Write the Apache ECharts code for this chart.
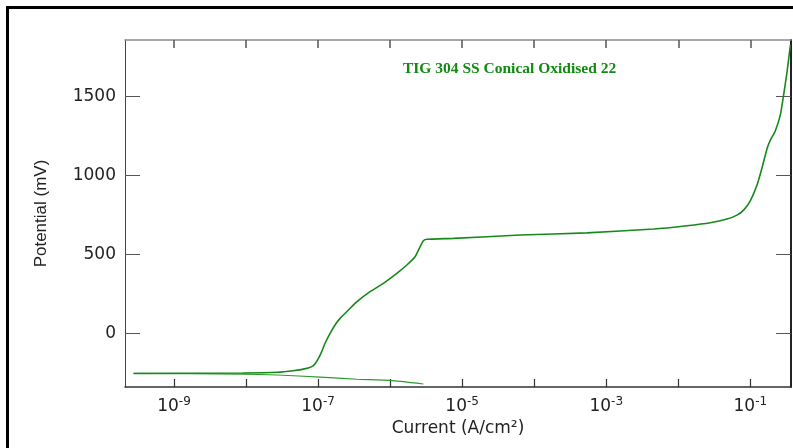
<!DOCTYPE html>
<html>
<head>
<meta charset="utf-8">
<script src="https://cdn.jsdelivr.net/npm/echarts@6/dist/echarts.min.js"></script>
<style>
  html, body { margin: 0; padding: 0; background: #ffffff; }
  #chart { width: 793px; height: 448px; }
</style>
</head>
<body>
<div id="chart"></div>
<script>
// Potentiodynamic polarisation scan: current density (A/cm²) vs potential (mV)
const chartTitle = 'TIG 304 SS Conical Oxidised 22';

// Cathodic branch, scanned from the most negative potential up to the corrosion potential
const cathodicCurrent = [2.9e-6, 1.0e-6, 3.47e-7, 1.07e-7, 2.7e-8, 9.1e-9, 2.75e-10];
const cathodicPotential = [-321, -298, -291, -277, -264, -258, -254];

// Anodic branch, from the corrosion potential through passivity to breakdown
const anodicCurrent = [
  2.75e-10, 9.1e-9, 2.7e-8, 4.5e-8, 7.0e-8, 8.6e-8, 9.8e-8, 1.12e-7, 1.25e-7, 1.47e-7,
  1.72e-7, 2.02e-7, 2.64e-7, 3.44e-7, 5.27e-7, 8.07e-7, 1.24e-6, 1.71e-6,
  2.22e-6, 2.61e-6, 2.90e-6, 3.24e-6, 7.57e-6, 6.4e-5, 5.4e-4, 4.54e-3,
  1.32e-2, 2.78e-2, 4.74e-2, 6.53e-2, 8.07e-2, 0.100, 0.124, 0.145, 0.171,
  0.190, 0.220, 0.261, 0.290, 0.324, 0.360
];
const anodicPotential = [
  -254, -251, -247, -237, -222, -205, -170, -117, -63, 0,
  53, 95, 148, 200, 264, 317, 380, 433,
  485, 549, 587, 596, 602, 623, 637, 661,
  682, 701, 724, 749, 781, 840, 940, 1046, 1172,
  1225, 1278, 1383, 1510, 1658, 1827
];

// Axis ranges and ticks (x in decades of current)
const xRange = [-9.68, -0.435];
const yRange = [-340, 1859];
const xTickDecades = [-9, -8, -7, -6, -5, -4, -3, -2, -1];
const xLabelDecades = [-9, -7, -5, -3, -1];
const yTicks = [0, 500, 1000, 1500];

const toPairs = (cur, pot) => cur.map((c, i) => [Math.log10(c), pot[i]]);

const lineColor = '#17891a';
const fontSans = 'DejaVu Sans';

const chart = echarts.init(document.getElementById('chart'), null, { renderer: 'canvas' });

chart.setOption({
  backgroundColor: '#ffffff',
  animation: false,
  grid: { left: 125, right: 2, top: 40, bottom: 61, containLabel: false },
  graphic: [
    { type: 'rect', left: 6, top: 6, shape: { width: 787, height: 3 }, style: { fill: '#000' }, silent: true },
    { type: 'rect', left: 6, top: 6, shape: { width: 3, height: 442 }, style: { fill: '#000' }, silent: true },
    {
      type: 'text', left: 403, top: 61, silent: true,
      style: {
        text: chartTitle, fill: '#108a10',
        font: 'bold 15.5px "Liberation Serif", "Times New Roman", serif'
      }
    }
  ],
  xAxis: [
    {
      type: 'value', position: 'bottom', min: xRange[0], max: xRange[1],
      name: 'Current (A/cm²)', nameLocation: 'middle', nameGap: 26,
      nameTextStyle: { fontFamily: fontSans, fontSize: 17, color: '#222' },
      axisLine: { show: true, onZero: false, lineStyle: { color: '#333', width: 1.5 } },
      axisTick: { show: true, inside: true, length: 8, customValues: xTickDecades, lineStyle: { color: '#333', width: 1.2 } },
      axisLabel: {
        customValues: xLabelDecades, margin: 9,
        formatter: v => '{a|10}{b|' + Math.round(v) + '}',
        rich: {
          a: { fontFamily: fontSans, fontSize: 17, color: '#222' },
          b: { fontFamily: fontSans, fontSize: 12, color: '#222', padding: [0, 0, 9, 0] }
        }
      },
      splitLine: { show: false }
    },
    {
      type: 'value', position: 'top', min: xRange[0], max: xRange[1],
      axisLine: { show: true, onZero: false, lineStyle: { color: '#8c8c8c', width: 1.5 } },
      axisTick: { show: true, inside: true, length: 8, customValues: xTickDecades, lineStyle: { color: '#555', width: 1.5 } },
      axisLabel: { show: false },
      splitLine: { show: false }
    }
  ],
  yAxis: [
    {
      type: 'value', position: 'left', min: yRange[0], max: yRange[1],
      name: 'Potential (mV)', nameLocation: 'middle', nameGap: 75, nameRotate: 90,
      nameTextStyle: { fontFamily: 'Liberation Sans', fontSize: 17, color: '#222' },
      axisLine: { show: true, onZero: false, lineStyle: { color: '#444', width: 1 } },
      axisTick: { show: true, inside: true, length: 15, customValues: yTicks, lineStyle: { color: '#555', width: 1 } },
      axisLabel: {
        customValues: yTicks, margin: 9, fontFamily: fontSans, fontSize: 17, color: '#222',
        formatter: v => String(Math.round(v))
      },
      splitLine: { show: false }
    },
    {
      type: 'value', position: 'right', min: yRange[0], max: yRange[1],
      axisLine: { show: true, onZero: false, lineStyle: { color: '#222', width: 2 } },
      axisTick: { show: true, inside: true, length: 15, customValues: yTicks, lineStyle: { color: '#555', width: 1 } },
      axisLabel: { show: false },
      splitLine: { show: false }
    }
  ],
  series: [
    {
      name: 'Cathodic', type: 'line', xAxisIndex: 0, yAxisIndex: 0,
      data: toPairs(cathodicCurrent, cathodicPotential),
      showSymbol: false, smooth: 0.15,
      lineStyle: { color: '#2c9a2c', width: 1.2 }
    },
    {
      name: 'Anodic', type: 'line', xAxisIndex: 0, yAxisIndex: 0,
      data: toPairs(anodicCurrent, anodicPotential),
      showSymbol: false, smooth: 0.15,
      lineStyle: { color: lineColor, width: 1.6 }
    }
  ]
});
</script>
</body>
</html>
